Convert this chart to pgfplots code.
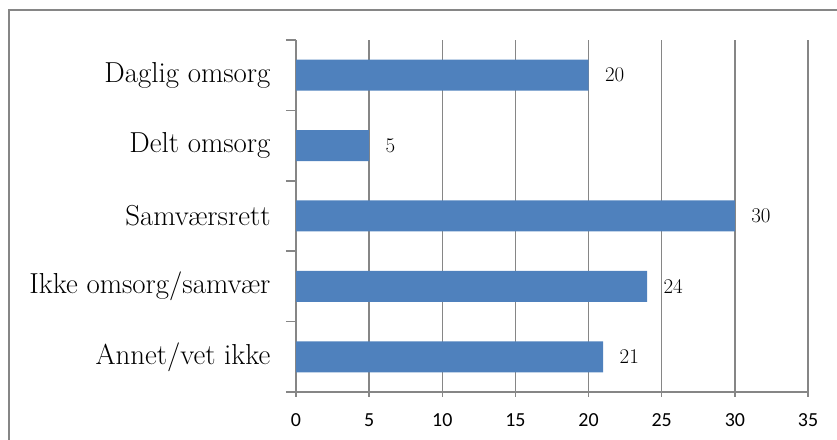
\documentclass[border=0pt]{standalone}
\usepackage{pgfplots}
\pgfplotsset{compat=1.18}
\usepackage{fontspec}
\newfontfamily\carlito{Carlito}
\definecolor{barblue}{HTML}{4F81BD}
\definecolor{axgray}{HTML}{868686}
\begin{document}
\begin{tikzpicture}
\useasboundingbox (0,0) rectangle (837bp,440bp);
\draw[axgray, line width=1.5bp] (9bp,-2bp) -- (9bp,430bp) -- (840bp,430bp);
\begin{axis}[
  at={(296bp,48bp)}, anchor=south west,
  scale only axis, width=512bp, height=352bp,
  xmin=0, xmax=35, ymin=-0.5, ymax=4.5,
  xbar, bar width=31bp,
  axis x line*=bottom, axis y line*=left,
  axis line style={axgray, line width=1.5bp},
  xtick={0,5,...,35}, xmajorgrids,
  grid style={axgray, line width=1.5bp},
  ytick={0,...,4},
  yticklabels={Annet/vet ikke, Ikke omsorg/samvær, Samværsrett, Delt omsorg, Daglig omsorg},
  minor ytick={-0.5,0.5,...,4.5},
  major tick length=5bp, minor tick length=10bp,
  tick align=outside,
  tick style={axgray, line width=1.5bp},
  major y tick style={draw=none},
  xticklabel style={font=\carlito\fontsize{20}{22}\selectfont, yshift=-13bp},
  yticklabel style={font=\fontsize{29}{31}\selectfont, xshift=-17bp},
  /pgf/number format/assume math mode=true,
  nodes near coords,
  nodes near coords style={font=\fontsize{21}{22}\selectfont, black, xshift=13bp},
]
\addplot[fill=barblue, draw=none] coordinates {(21,0) (24,1) (30,2) (5,3) (20,4)};
\end{axis}
\end{tikzpicture}
\end{document}
